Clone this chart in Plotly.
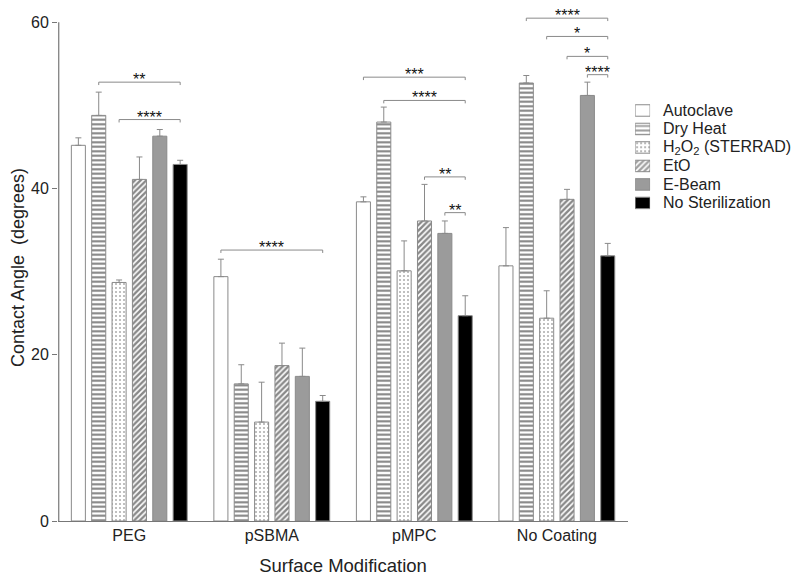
import plotly.graph_objects as go

categories = ["PEG", "pSBMA", "pMPC", "No Coating"]
series_names = ["Autoclave", "Dry Heat", "H<sub>2</sub>O<sub>2</sub> (STERRAD)", "EtO", "E-Beam", "No Sterilization"]

autoclave = [45.2, 29.4, 38.4, 30.7]
autoclave_err = [0.9, 2.1, 0.6, 4.6]
dry_heat = [48.8, 16.5, 48.0, 52.7]
dry_heat_err = [2.8, 2.3, 1.8, 0.9]
h2o2 = [28.7, 11.9, 30.1, 24.4]
h2o2_err = [0.3, 4.8, 3.6, 3.3]
eto = [41.1, 18.7, 36.1, 38.7]
eto_err = [2.7, 2.7, 4.4, 1.2]
ebeam = [46.3, 17.4, 34.6, 51.2]
ebeam_err = [0.8, 3.4, 1.5, 1.6]
no_ster = [42.9, 14.4, 24.7, 31.9]
no_ster_err = [0.5, 0.7, 2.4, 1.5]

values = [autoclave, dry_heat, h2o2, eto, ebeam, no_ster]
errors = [autoclave_err, dry_heat_err, h2o2_err, eto_err, ebeam_err, no_ster_err]

# significance brackets: group index, series from, series to, height, label
sig_group = [0, 0, 1, 2, 2, 2, 2, 3, 3, 3, 3]
sig_from = [1, 2, 0, 0, 1, 3, 4, 1, 2, 3, 4]
sig_to = [5, 5, 5, 5, 5, 5, 5, 5, 5, 5, 5]
sig_y = [52.8, 48.3, 32.6, 53.4, 50.6, 41.4, 37.1, 60.5, 58.3, 55.9, 53.7]
sig_text = ["**", "****", "****", "***", "****", "**", "**", "****", "*", "*", "****"]

outline = "#8a8a8a"
fill_colors = ["white", "white", "white", "white", "#9b9b9b", "black"]
pat_shapes = ["", "-", ".", "/", "", ""]
pat_fg = ["#000000", "#000000", "#555555", "#111111", "#000000", "#000000"]
pat_size = [4, 4.5, 4, 4, 4, 4]
pat_solid = [0.3, 0.45, 0.2, 0.6, 0.3, 0.3]

bargap = 0.143
bargroupgap = 0.31
n = len(series_names)

# the page body adds an 8px offset, so the figure is sized/positioned accordingly
OFF = 8
W, H = 800 - OFF, 583 - OFF
ml, mr, mt, mb = 57.5 - OFF, 5, 13.7 - OFF, 62
pw = W - ml - mr
ph = H - mt - mb
main_right_px = 628 - OFF
main_dom = [0, (main_right_px - ml) / pw]

fig = go.Figure()
for i, name in enumerate(series_names):
    marker = dict(color=fill_colors[i], line=dict(color=outline, width=1))
    if pat_shapes[i]:
        marker["pattern"] = dict(shape=pat_shapes[i], fgcolor=pat_fg[i], bgcolor="white",
                                 size=pat_size[i], solidity=pat_solid[i])
    fig.add_trace(go.Bar(
        x=list(range(len(categories))), y=values[i], name=name, showlegend=False,
        marker=marker,
        error_y=dict(type="data", array=errors[i], arrayminus=[0] * len(categories),
                     symmetric=False, color=outline, thickness=1, width=3),
    ))

# custom legend: swatches as tiny horizontal bars on their own axes
leg_idx = list(range(n))
fig.add_trace(go.Bar(
    x=[1] * n, y=leg_idx, orientation="h", xaxis="x2", yaxis="y2", width=0.62,
    showlegend=False, hoverinfo="skip",
    marker=dict(color=fill_colors, line=dict(color=outline, width=1),
                pattern=dict(shape=pat_shapes, fgcolor=pat_fg, bgcolor="white",
                             size=pat_size, solidity=pat_solid)),
))

def slot_center(g, s):
    w = (1 - bargap) / n
    return g - (1 - bargap) / 2 + (s + 0.5) * w

shapes = []
annotations = []
for g, a, b, yv, txt in zip(sig_group, sig_from, sig_to, sig_y, sig_text):
    x1 = slot_center(g, a)
    x2 = slot_center(g, b)
    d = 0.35
    shapes.append(dict(type="path", xref="x", yref="y",
                       path=f"M {x1},{yv - d} L {x1},{yv} L {x2},{yv} L {x2},{yv - d}",
                       line=dict(color=outline, width=1)))
    annotations.append(dict(x=(x1 + x2) / 2, y=yv, xref="x", yref="y", text=txt,
                            showarrow=False, yanchor="bottom", yshift=-8,
                            font=dict(size=16, color="#111111")))

for i, name in enumerate(series_names):
    annotations.append(dict(x=(661 - OFF - ml) / pw, y=i, xref="paper", yref="y2", text=name,
                            showarrow=False, xanchor="left", yanchor="middle",
                            font=dict(size=16, color="#222222")))

# left axis line from 0 to 60
shapes.append(dict(type="line", xref="paper", yref="y", x0=0.001, x1=0.001, y0=0, y1=60,
                   line=dict(color="#777777", width=1.2)))

leg_top_px, leg_bot_px = 101 - OFF, 212 - OFF
fig.update_layout(
    width=W, height=H,
    margin=dict(l=ml, r=mr, t=mt, b=mb, autoexpand=False),
    paper_bgcolor="white", plot_bgcolor="white",
    barmode="group", bargap=bargap, bargroupgap=bargroupgap,
    font=dict(family="Liberation Sans, Arial, sans-serif", color="#222222"),
    shapes=shapes, annotations=annotations,
    showlegend=False,
    xaxis2=dict(domain=[(635 - OFF - ml) / pw, (650 - OFF - ml) / pw], range=[0, 1], anchor="y2",
                visible=False, fixedrange=True),
    yaxis2=dict(domain=[(H - mb - leg_bot_px) / ph, (H - mb - leg_top_px) / ph],
                range=[n - 0.5, -0.5], anchor="x2", visible=False, fixedrange=True),
)
fig.update_layout(xaxis=dict(
    domain=main_dom, automargin=False,
    tickmode="array", tickvals=list(range(len(categories))), ticktext=categories,
    range=[-0.5, 3.5], showline=True, linecolor="#777777", linewidth=1.2,
    ticks="", showgrid=False, zeroline=False,
    tickfont=dict(size=16), title=dict(text="Surface Modification", font=dict(size=18.5), standoff=15),
))
fig.update_layout(yaxis=dict(
    automargin=False,
    range=[0, 61], tickvals=[0, 20, 40, 60], ticks="outside", ticklen=5,
    tickcolor="#777777", showline=False, showgrid=False, zeroline=False,
    tickfont=dict(size=16), title=dict(text="Contact Angle  (degrees)", font=dict(size=18), standoff=2),
))

fig.write_html("out.html")
